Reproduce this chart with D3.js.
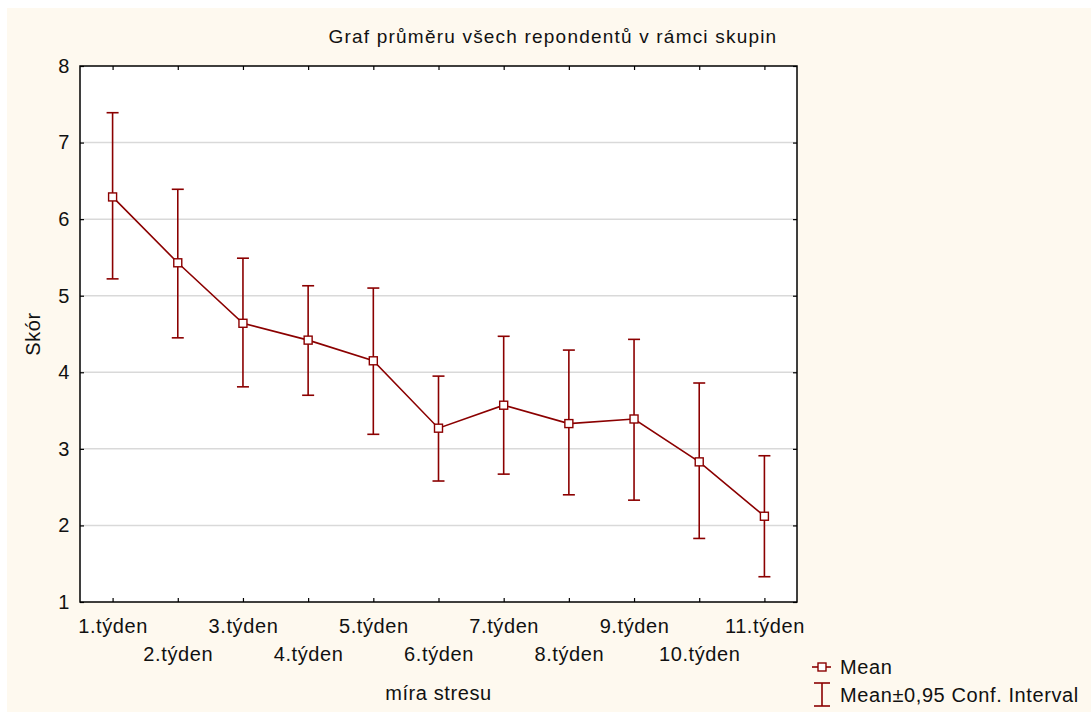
<!DOCTYPE html>
<html>
<head>
<meta charset="utf-8">
<script src="https://cdn.jsdelivr.net/npm/d3@7"></script>
<style>
  body { margin: 0; background: #fff; }
  text { font-family: "Liberation Sans", Arial, sans-serif; fill: #111; }
</style>
</head>
<body>
<div class="canvas"></div>
<script>
// values
const weeks = ["1.týden","2.týden","3.týden","4.týden","5.týden","6.týden","7.týden","8.týden","9.týden","10.týden","11.týden"];
const means = [6.29, 5.43, 4.64, 4.42, 4.15, 3.27, 3.57, 3.33, 3.39, 2.83, 2.12];
const upper = [7.39, 6.39, 5.49, 5.13, 5.10, 3.95, 4.47, 4.29, 4.43, 3.86, 2.91];
const lower = [5.22, 4.45, 3.81, 3.70, 3.19, 2.58, 2.67, 2.40, 2.33, 1.83, 1.33];
const yTicks = [1, 2, 3, 4, 5, 6, 7, 8];

const red = "#8b0000";
const W = 1091, H = 712;
const plot = {left: 80, top: 66, right: 797, bottom: 602};
const fs = "20px", ls = "0.6px";

const svg = d3.select(".canvas").append("svg")
  .attr("width", W).attr("height", H);

// cream background (white strip on top/left like the original)
svg.append("rect").attr("x", 7).attr("y", 8).attr("width", W - 7).attr("height", H - 8)
  .attr("fill", "#fef9ef");

const x = d3.scalePoint().domain(weeks).range([plot.left, plot.right]).padding(0.5);
const y = d3.scaleLinear().domain([1, 8]).range([plot.bottom, plot.top]);

svg.append("rect")
  .attr("x", plot.left).attr("y", plot.top)
  .attr("width", plot.right - plot.left).attr("height", plot.bottom - plot.top)
  .attr("fill", "#fff");

// gridlines
svg.append("g").selectAll("line")
  .data(yTicks.filter(d => d > 1 && d < 8))
  .join("line")
    .attr("x1", plot.left).attr("x2", plot.right)
    .attr("y1", d => y(d)).attr("y2", d => y(d))
    .attr("stroke", "#d9d9d9").attr("stroke-width", 1.5);

// axes, ticks pointing inward
const axisStyle = g => {
  g.select(".domain").remove();
  g.selectAll(".tick line").attr("stroke", "#000").attr("stroke-width", 1.2);
};

svg.append("g")
  .attr("transform", `translate(${plot.left},0)`)
  .call(d3.axisLeft(y).tickValues(yTicks).tickSizeInner(-4).tickPadding(10).tickFormat(d3.format("d")))
  .call(axisStyle)
  .selectAll("text").style("font-size", fs).style("letter-spacing", ls).attr("fill", "#111");

svg.append("g")
  .attr("transform", `translate(${plot.right},0)`)
  .call(d3.axisRight(y).tickValues(yTicks).tickSizeInner(-4).tickFormat(""))
  .call(axisStyle);

svg.append("g")
  .attr("transform", `translate(0,${plot.top})`)
  .call(d3.axisTop(x).tickSizeInner(-4).tickFormat(""))
  .call(axisStyle);

const xAxis = svg.append("g")
  .attr("transform", `translate(0,${plot.bottom})`)
  .call(d3.axisBottom(x).tickSizeInner(-4).tickPadding(0))
  .call(axisStyle);
xAxis.selectAll("text")
  .style("font-size", fs).style("letter-spacing", ls).attr("fill", "#111")
  .attr("dy", null)
  .attr("y", (d, i) => i % 2 === 0 ? 31 : 59);

// frame
svg.append("rect")
  .attr("x", plot.left).attr("y", plot.top)
  .attr("width", plot.right - plot.left).attr("height", plot.bottom - plot.top)
  .attr("fill", "none").attr("stroke", "#000").attr("stroke-width", 1.5);

// error bars
const eb = svg.append("g").attr("stroke", red).attr("stroke-width", 1.6).attr("fill", "none");
weeks.forEach((w, i) => {
  const cx = x(w);
  eb.append("line").attr("x1", cx).attr("x2", cx).attr("y1", y(upper[i])).attr("y2", y(lower[i]));
  eb.append("line").attr("x1", cx - 6).attr("x2", cx + 6).attr("y1", y(upper[i])).attr("y2", y(upper[i]));
  eb.append("line").attr("x1", cx - 6).attr("x2", cx + 6).attr("y1", y(lower[i])).attr("y2", y(lower[i]));
});

// mean line
svg.append("path")
  .datum(means)
  .attr("d", d3.line().x((d, i) => x(weeks[i])).y(d => y(d)))
  .attr("fill", "none").attr("stroke", red).attr("stroke-width", 1.6);

svg.append("g").selectAll("rect")
  .data(means)
  .join("rect")
    .attr("x", (d, i) => x(weeks[i]) - 4).attr("y", d => y(d) - 4)
    .attr("width", 8).attr("height", 8)
    .attr("fill", "#fff").attr("stroke", red).attr("stroke-width", 1.4);

// title and axis labels
svg.append("text").attr("x", 553).attr("y", 43).attr("text-anchor", "middle")
  .style("font-size", "19px").style("letter-spacing", "1.2px")
  .text("Graf průměru všech repondentů v rámci skupin");

svg.append("text").attr("transform", `translate(40,${(plot.top + plot.bottom) / 2}) rotate(-90)`)
  .attr("text-anchor", "middle").style("font-size", fs).style("letter-spacing", ls).text("Skór");

svg.append("text").attr("x", (plot.left + plot.right) / 2).attr("y", 700).attr("text-anchor", "middle")
  .style("font-size", fs).style("letter-spacing", ls).text("míra stresu");

// legend
const lg = svg.append("g");
lg.append("line").attr("x1", 812).attr("x2", 831).attr("y1", 667).attr("y2", 667)
  .attr("stroke", red).attr("stroke-width", 1.6);
lg.append("rect").attr("x", 818).attr("y", 663).attr("width", 8).attr("height", 8)
  .attr("fill", "#fff").attr("stroke", red).attr("stroke-width", 1.4);
lg.append("text").attr("x", 840).attr("y", 674).style("font-size", fs).style("letter-spacing", ls).text("Mean");

lg.append("line").attr("x1", 822).attr("x2", 822).attr("y1", 683).attr("y2", 706)
  .attr("stroke", red).attr("stroke-width", 1.6);
lg.append("line").attr("x1", 814).attr("x2", 830).attr("y1", 683).attr("y2", 683)
  .attr("stroke", red).attr("stroke-width", 1.6);
lg.append("line").attr("x1", 814).attr("x2", 830).attr("y1", 706).attr("y2", 706)
  .attr("stroke", red).attr("stroke-width", 1.6);
lg.append("text").attr("x", 840).attr("y", 702).style("font-size", fs).style("letter-spacing", ls)
  .text("Mean±0,95 Conf. Interval");
</script>
</body>
</html>
